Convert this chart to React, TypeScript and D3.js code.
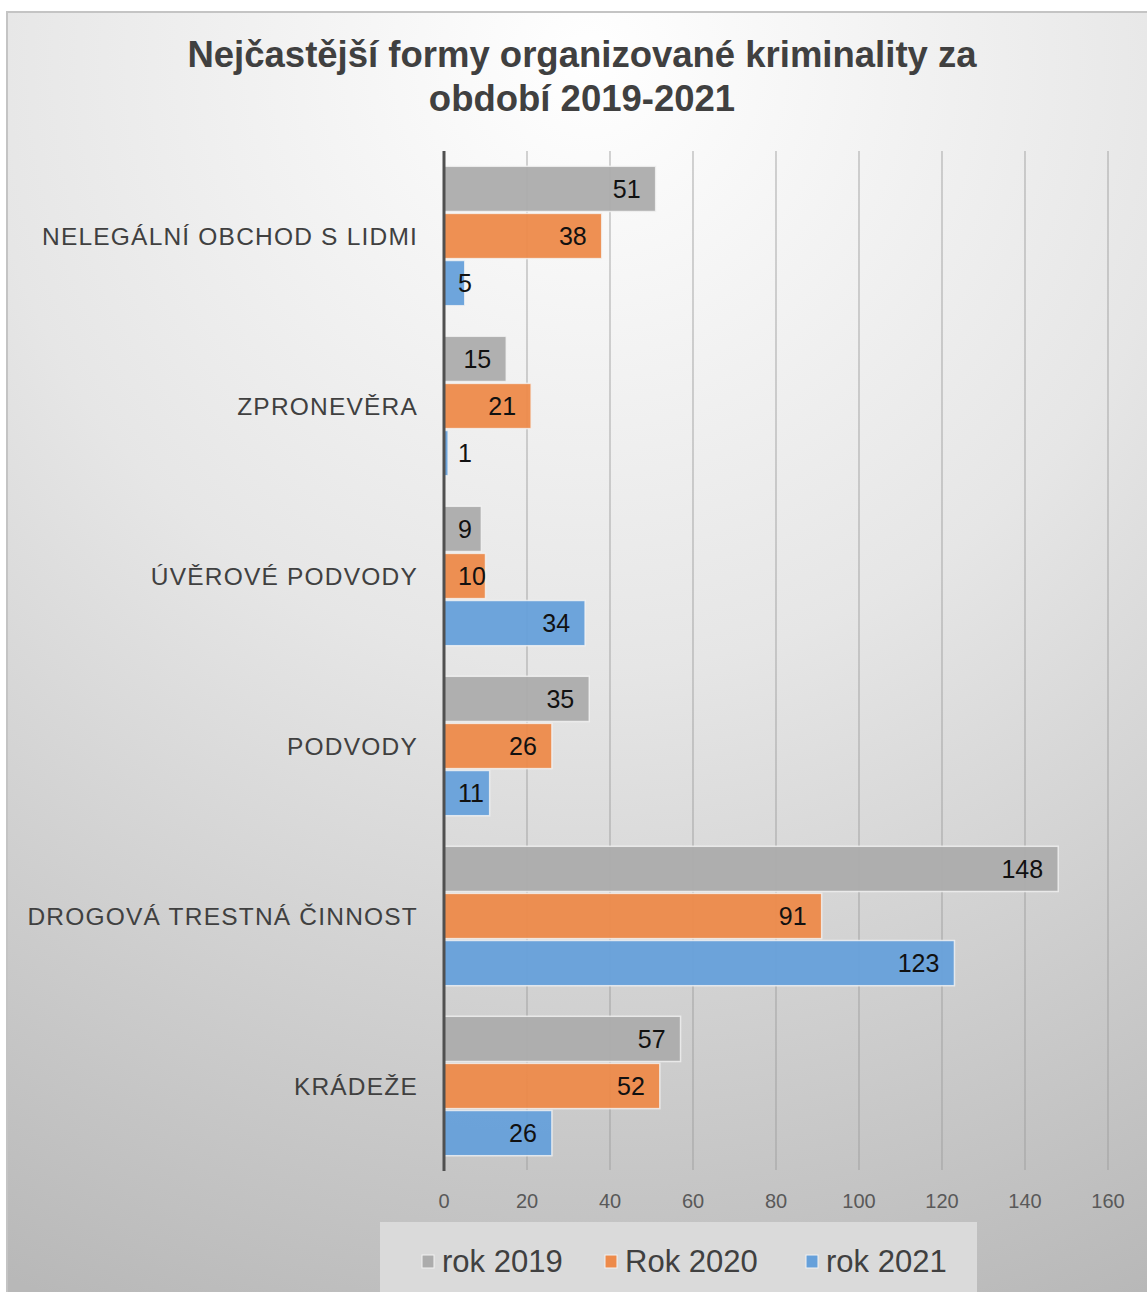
import { useEffect, useRef } from "react";
import * as d3 from "d3";

const categories = [
  "NELEGÁLNÍ OBCHOD S LIDMI",
  "ZPRONEVĚRA",
  "ÚVĚROVÉ PODVODY",
  "PODVODY",
  "DROGOVÁ TRESTNÁ ČINNOST",
  "KRÁDEŽE",
];
const seriesNames = ["rok 2019", "Rok 2020", "rok 2021"];
const values2019 = [51, 15, 9, 35, 148, 57];
const values2020 = [38, 21, 10, 26, 91, 52];
const values2021 = [5, 1, 34, 11, 123, 26];
const seriesColors = ["#acacac", "#ed8a4a", "#66a0da"];
const xTicks = [0, 20, 40, 60, 80, 100, 120, 140, 160];
const titleLines = ["Nejčastější formy organizované kriminality za", "období 2019-2021"];

const W = 1147;
const H = 1292;

export default function App() {
  const svgRef = useRef<SVGSVGElement>(null);

  useEffect(() => {
    document.body.style.margin = "0";
    if (!svgRef.current) return;
    const svg = d3.select(svgRef.current);
    svg.selectAll("*").remove();

    const font = "Liberation Sans, Arial, sans-serif";

    // background
    const defs = svg.append("defs");
    const grad = defs
      .append("radialGradient")
      .attr("id", "bg")
      .attr("gradientUnits", "userSpaceOnUse")
      .attr("cx", 590)
      .attr("cy", 60)
      .attr("r", 1350);
    grad.append("stop").attr("offset", "0").attr("stop-color", "#ffffff");
    grad.append("stop").attr("offset", "0.45").attr("stop-color", "#e6e6e6");
    grad.append("stop").attr("offset", "1").attr("stop-color", "#b8b8b8");

    svg.append("rect").attr("width", W).attr("height", H).attr("fill", "#ffffff");
    svg
      .append("rect")
      .attr("x", 7)
      .attr("y", 12)
      .attr("width", W)
      .attr("height", H)
      .attr("fill", "url(#bg)")
      .attr("stroke", "#c4c4c4")
      .attr("stroke-width", 2);

    // title
    svg
      .append("g")
      .selectAll("text")
      .data(titleLines)
      .join("text")
      .attr("x", 582)
      .attr("y", (_, i) => 67 + i * 44)
      .attr("text-anchor", "middle")
      .attr("font-family", font)
      .attr("font-weight", "bold")
      .attr("font-size", 36.5)
      .attr("fill", "#404040")
      .text((d) => d);

    const x = d3.scaleLinear().domain([0, 160]).range([444, 1108]);
    const y = d3.scaleBand<string>().domain(categories).range([151, 1171]).paddingInner(0.18).paddingOuter(0.09);
    const yInner = d3.scaleBand<string>().domain(seriesNames).range([0, y.bandwidth()]).paddingInner(0.04);

    // grid
    svg
      .append("g")
      .selectAll("line")
      .data(xTicks.slice(1))
      .join("line")
      .attr("x1", (d) => x(d))
      .attr("x2", (d) => x(d))
      .attr("y1", 151)
      .attr("y2", 1170)
      .attr("stroke", "#9a9a9a")
      .attr("stroke-width", 1.2)
      .attr("opacity", 0.7);

    // tick labels
    svg
      .append("g")
      .selectAll("text")
      .data(xTicks)
      .join("text")
      .attr("x", (d) => x(d))
      .attr("y", 1208)
      .attr("text-anchor", "middle")
      .attr("font-family", font)
      .attr("font-size", 20)
      .attr("fill", "#595959")
      .text((d) => d);

    const all = [values2019, values2020, values2021];
    const rows = categories.flatMap((c, ci) =>
      seriesNames.map((s, si) => ({ c, s, si, v: all[si][ci] }))
    );

    const bars = svg.append("g");
    bars
      .selectAll("rect")
      .data(rows)
      .join("rect")
      .attr("x", x(0))
      .attr("y", (d) => y(d.c)! + yInner(d.s)!)
      .attr("width", (d) => x(d.v) - x(0))
      .attr("height", yInner.bandwidth())
      .attr("fill", (d) => seriesColors[d.si])
      .attr("fill-opacity", 0.95)
      .attr("stroke", "#f4f4f4")
      .attr("stroke-opacity", 0.8)
      .attr("stroke-width", 1.5);

    // value labels
    svg
      .append("g")
      .selectAll("text")
      .data(rows)
      .join("text")
      .attr("x", (d) => (x(d.v) - x(0) < 50 ? x(0) + 14 : x(d.v) - 15))
      .attr("y", (d) => y(d.c)! + yInner(d.s)! + yInner.bandwidth() / 2 + 9)
      .attr("text-anchor", (d) => (x(d.v) - x(0) < 50 ? "start" : "end"))
      .attr("font-family", font)
      .attr("font-size", 25)
      .attr("fill", "#111111")
      .text((d) => d.v);

    // axis line
    svg
      .append("line")
      .attr("x1", x(0))
      .attr("x2", x(0))
      .attr("y1", 151)
      .attr("y2", 1171)
      .attr("stroke", "#505050")
      .attr("stroke-width", 3);

    // category labels
    svg
      .append("g")
      .selectAll("text")
      .data(categories)
      .join("text")
      .attr("x", 418)
      .attr("y", (d) => y(d)! + y.bandwidth() / 2 + 9)
      .attr("text-anchor", "end")
      .attr("font-family", font)
      .attr("font-size", 24.5)
      .attr("letter-spacing", 1.2)
      .attr("fill", "#404040")
      .text((d) => d);

    // legend
    svg
      .append("rect")
      .attr("x", 380)
      .attr("y", 1222)
      .attr("width", 597)
      .attr("height", 80)
      .attr("fill", "#dadada");

    const legendX = [422, 605, 806];
    const lg = svg
      .append("g")
      .selectAll("g")
      .data(seriesNames)
      .join("g")
      .attr("transform", (_, i) => `translate(${legendX[i]},1255)`);
    lg.append("rect")
      .attr("width", 12)
      .attr("height", 13)
      .attr("fill", (_, i) => seriesColors[i])
      .attr("stroke", "#f2f2f2")
      .attr("stroke-width", 1);
    lg.append("text")
      .attr("x", 20)
      .attr("y", 17)
      .attr("font-family", font)
      .attr("font-size", 31)
      .attr("fill", "#404040")
      .text((d) => d);
  }, []);

  return <svg ref={svgRef} width={W} height={H} style={{ display: "block" }} />;
}
